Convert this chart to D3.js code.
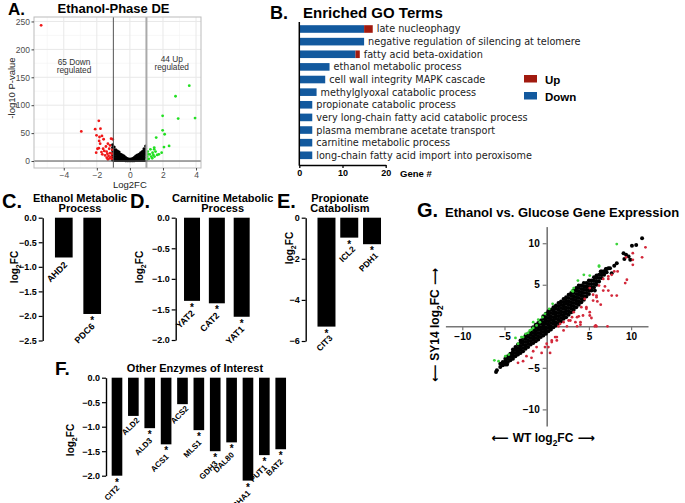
<!DOCTYPE html>
<html><head><meta charset="utf-8">
<script src="https://cdn.jsdelivr.net/npm/d3@7"></script>
<style>body{margin:0;background:#fff}svg{display:block}</style>
</head><body>
<svg id="c" width="685" height="503"></svg>
<script>
// ================= DATA =================
// Panel A: volcano plot  [log2FC, -log10 P]
const volcanoDown = [[-5.37,243],[-2.94,53],[-1.88,72],[-2.1,57],[-1.78,58],[-2.02,46],[-1.84,43],[-1.69,45],[-1.59,39],[-1.86,36],[-1.8,31],[-2.04,15],[-1.88,23],[-1.45,26],[-1.33,31],[-1.14,40],[-1.2,28],[-1.55,18],[-1.41,17],[-1.2,14],[-1.29,9],[-1.06,20],[-1.33,3],[-1.12,8],[-1.67,12],[-1.04,39],[-1.5,10],[-1.25,22],[-1.62,22],[-1.1,4],[-1.4,6],[-1.08,13],[-1.72,16],[-1.96,22],[-1.22,5],[-1.36,13]];
const volcanoUp = [[3.59,135],[2.76,116],[1.98,81],[2.92,76],[3.94,77],[1.98,55],[2.1,48],[1.59,42],[2.37,27],[2.06,25],[1.47,24],[1.47,21],[1.37,15],[1.92,15],[1.65,11],[1.2,12],[1.29,8],[1.49,8],[1.04,8],[1.14,4],[1.35,5],[1.08,17],[1.24,21],[1.55,17],[1.1,12],[1.42,11],[1.75,12],[1.02,3]];
// not significant genes, grouped by log2FC column: [log2FC, [-log10 P values]]
const volcanoNS = [[-1.05,[2,6,10,14,19,24,29]],[-0.95,[1,4,8,12,16,20,25]],[-0.85,[1,4,8,12,16,20]],[-0.75,[1,4,7,11,15,18]],[-0.65,[1,4,7,10,13,16]],[-0.55,[1,3,6,9,12]],[-0.45,[1,3,6,9,11]],[-0.35,[1,3,5,7,9]],[-0.25,[0.5,2.5,4.5,6.5]],[-0.15,[0.5,2.5,4.5]],[-0.05,[0.5,2,3.5]],[0.05,[0.5,2,3.5]],[0.15,[0.5,2.5,4.5]],[0.25,[0.5,2.5,4.5,6.5]],[0.35,[1,3,5,7,9]],[0.45,[1,3,6,9,11]],[0.55,[1,3,6,9,12]],[0.65,[1,4,7,10,13,15]],[0.75,[1,4,7,10,14,17]],[0.85,[1,4,8,12,16,19,22]],[0.95,[1,5,9,13,17,22,27]]];
const volcanoXTicks = [-4,-2,0,2,4];
const volcanoXMinor = [-5,-3,-1,1,3];
const volcanoYTicks = [0,50,100,150,200,250];
const volcanoYMinor = [25,75,125,175,225];
const volcanoCutoffs = [-1,1];
const volcanoNotes = [["65 Down","regulated"],["44 Up","regulated"]];

// Panel B: enriched GO terms
const goTerms = ["late nucleophagy","negative regulation of silencing at telomere","fatty acid beta-oxidation","ethanol metabolic process","cell wall integrity MAPK cascade","methylglyoxal catabolic process","propionate catabolic process","very long-chain fatty acid catabolic process","plasma membrane acetate transport","carnitine metabolic process","long-chain fatty acid import into peroxisome"];
const goDown = [15,15,13,7,6,4,3,3,3,3,3];
const goUp   = [2,0,1,0,0,0,0,0,0,0,0];
const goTicks = [0,10,20];
const goLegend = ["Up","Down"];

// Panel C
const cGenes = ["AHD2","PDC6"];
const cValues = [-0.81,-1.96];
const cSig = [false,true];
const cTicks = [0,-0.5,-1,-1.5,-2,-2.5];
// Panel D
const dGenes = ["YAT2","CAT2","YAT1"];
const dValues = [-1.36,-1.40,-1.62];
const dSig = [true,true,true];
const dTicks = [0,-0.5,-1,-1.5,-2];
// Panel E
const eGenes = ["CIT3","ICL2","PDH1"];
const eValues = [-5.3,-0.97,-1.29];
const eSig = [true,true,true];
const eTicks = [0,-2,-4,-6];
// Panel F
const fGenes = ["CIT2","ALD2","ALD3","ACS1","ACS2","MLS1","GDH3","DAL80","CHA1","PUT1","BAT2"];
const fValues = [-2.0,-0.78,-1.03,-1.36,-0.54,-1.07,-1.50,-1.32,-2.1,-1.58,-1.46];
const fSig = [true,false,true,true,false,true,true,true,true,true,true];
const fTicks = [0,-0.5,-1,-1.5,-2];

// Panel G: WT log2FC vs SY14 log2FC
const gBlackCols = [[-5.9,[-5.3]],[-5.5,[-4.9,-4.5]],[-5.2,[-4.7,-4.3]],[-4.9,[-4.6,-4.2,-3.9]],[-4.6,[-4.3,-3.9,-3.6]],[-4.3,[-4.1,-3.7,-3.3]],[-4.0,[-3.9,-3.5,-3.1,-2.8]],[-3.7,[-3.6,-3.2,-2.8,-2.5]],[-3.4,[-3.4,-3.0,-2.6,-2.2]],[-3.1,[-3.2,-2.8,-2.4,-2.0,-1.7]],[-2.8,[-3.0,-2.6,-2.2,-1.8,-1.4]],[-2.5,[-2.7,-2.3,-1.9,-1.5,-1.1]],[-2.2,[-2.5,-2.1,-1.7,-1.3,-0.9]],[-1.9,[-2.2,-1.8,-1.4,-1.0,-0.6]],[-1.6,[-2.0,-1.6,-1.2,-0.8,-0.4,-0.1]],[-1.3,[-1.8,-1.4,-1.0,-0.6,-0.2,0.2]],[-1.0,[-1.6,-1.2,-0.8,-0.4,0.0,0.4]],[-0.7,[-1.3,-0.9,-0.5,-0.1,0.3,0.7]],[-0.4,[-1.1,-0.7,-0.3,0.1,0.5,0.9,1.2]],[-0.1,[-0.9,-0.5,-0.1,0.3,0.7,1.1,1.5]],[0.2,[-0.6,-0.2,0.2,0.6,1.0,1.4,1.8]],[0.5,[-0.4,0.0,0.4,0.8,1.2,1.6,2.0]],[0.8,[-0.1,0.3,0.7,1.1,1.5,1.9,2.3]],[1.1,[0.1,0.5,0.9,1.3,1.7,2.1,2.5]],[1.4,[0.4,0.8,1.2,1.6,2.0,2.4,2.8]],[1.7,[0.6,1.0,1.4,1.8,2.2,2.6,3.0]],[2.0,[0.9,1.3,1.7,2.1,2.5,2.9,3.3]],[2.3,[1.1,1.5,1.9,2.3,2.7,3.1,3.5]],[2.6,[1.4,1.8,2.2,2.6,3.0,3.4,3.8]],[2.9,[1.7,2.1,2.5,2.9,3.3,3.7,4.0]],[3.2,[2.0,2.4,2.8,3.2,3.6,4.0,4.3]],[3.5,[2.3,2.7,3.1,3.5,3.9,4.3,4.6]],[3.8,[2.6,3.0,3.4,3.8,4.2,4.6,4.9]],[4.1,[2.9,3.3,3.7,4.1,4.5,4.9]],[4.4,[3.2,3.6,4.0,4.4,4.8,5.2]],[4.7,[3.6,4.0,4.4,4.8,5.2]],[5.0,[3.9,4.3,4.7,5.1,5.5]],[5.3,[4.3,4.7,5.1,5.5]],[5.6,[4.7,5.1,5.5,5.9]],[5.9,[5.0,5.4,5.8,6.1]],[6.2,[5.4,5.8,6.2]],[6.5,[5.8,6.2,6.6]],[6.8,[6.2,6.6]],[7.1,[6.5,6.9]],[7.5,[7.0]]];
const gBlackExtra = [[11.3,10.6],[10.6,9.8],[10.1,9.7],[9.1,8.8],[9.4,8.6],[9.9,8.0],[9.7,8.4],[9.2,8.1],[8.3,7.6],[7.7,6.4],[6.7,6.6],[7.3,7.0],[5.7,4.3],[-6.0,-5.5],[-5.2,-4.6],[-4.7,-4.6],[-4.0,-3.2],[-3.4,-3.0],[8.0,7.3],[7.0,6.9],[6.4,6.6]];
const gRed = [[11.7,9.5],[11.3,8.3],[10.2,8.8],[10.2,8.0],[10.2,7.4],[9.4,8.3],[9.5,5.6],[9.3,5.2],[8.4,6.6],[8.0,6.6],[7.7,6.2],[7.3,5.7],[6.7,4.3],[7.3,4.3],[8.3,3.7],[7.7,3.7],[6.4,2.6],[5.9,3.7],[5.5,3.8],[5.1,4.6],[6.2,4.9],[4.5,3.3],[4.1,2.3],[4.7,2.1],[5.3,1.0],[3.8,1.2],[3.4,0.5],[2.8,0.7],[2.4,0],[3.6,0],[4.0,0.2],[5.7,0],[5.9,0],[5.8,0.1],[7.2,0],[1.4,0],[2.0,-0.5],[1.2,-1.3],[0.6,-1.9],[0.0,-2.1],[-0.2,-2.5],[0.4,-3.2],[-0.6,-3.2],[-1.6,-3.0],[-1.8,-3.8],[-2.4,-3.6],[-2.8,-4.2],[-3.4,-4.4],[-1.2,-2.5],[1.6,0.3],[2.0,0.5],[3.0,1.1],[5.1,1.3],[7.3,6.0],[6.7,5.7],[5.9,3.5],[5.5,3.1],[4.7,2.3],[5.1,1.7],[4.3,1.3],[4.0,0.5],[2.6,0.7],[1.0,-1.3],[0.6,-1.7],[3.2,1.7],[3.6,1.1],[1.2,-1.7],[0.2,-2.5],[6.0,3.0],[6.9,4.8]];
const gGreen = [[8.3,9.9],[6.2,7.3],[5.1,6.1],[3.7,5.5],[3.0,4.3],[3.2,4.6],[0.7,2.7],[0.3,2.1],[-0.2,1.5],[-0.5,1.1],[-1.0,0.8],[-1.6,-0.2],[-1.8,-0.4],[-2.0,-0.5],[-1.2,0.1],[-3.7,-1.4],[-4.5,-3.4],[-4.9,-3.6],[-6.2,-4.1],[-5.7,-4.2],[-2.5,-0.9],[-2.8,-1.3],[-2.2,-0.8],[-0.8,0.5],[6.2,7.2],[4.4,6.2],[3.1,4.2],[-1.6,0.5],[-3.0,-1.3],[-3.4,-2.1]];
const gTicks = [-10,-5,5,10];

// ================= DRAWING =================
const svg = d3.select("#c");
const SANS = "'Liberation Sans', Arial, Helvetica, sans-serif";
const DEJ = "'DejaVu Sans', sans-serif";

function txt(g, x, y, s, size, opts = {}) {
  return g.append("text").attr("x", x).attr("y", y).text(s)
    .attr("font-family", opts.family || SANS).attr("font-size", size)
    .attr("font-weight", opts.weight || "bold").attr("fill", opts.fill || "#000")
    .attr("text-anchor", opts.anchor || "start");
}
function log2fc(g, x, y, size, rot, prefix, arrows) {
  const t = g.append("text").attr("transform", `translate(${x},${y}) rotate(${rot})`)
    .attr("text-anchor", "middle").attr("dy", rot ? "0.35em" : 0)
    .attr("font-family", SANS).attr("font-size", size).attr("font-weight", "bold");
  if (arrows) t.append("tspan").attr("font-family", DEJ).text("\u27F5 ");
  if (prefix) t.append("tspan").text(prefix);
  t.append("tspan").text("log");
  t.append("tspan").attr("font-size", size * 0.7).attr("dy", size * 0.3).text("2");
  t.append("tspan").attr("dy", -size * 0.3).text("FC");
  if (arrows) t.append("tspan").attr("font-family", DEJ).text(" \u27F6");
  return t;
}

// Panel letters
[["A.",8,14.5,17],["B.",270,19,18],["C.",2,208,20],["D.",130,208,20],["E.",277,208,20],["F.",55,375,19],["G.",417,217,20]]
  .forEach(([s,x,y,f]) => txt(svg, x, y, s, f));

// ---------- Panel A ----------
{
  const g = svg.append("g");
  const x = d3.scaleLinear().domain([-5.8, 4.3]).range([34, 201]);
  const y = d3.scaleLinear().domain([-12.5, 258]).range([168, 17]);
  g.selectAll(".vmin").data(volcanoXMinor).join("line").attr("x1", d=>x(d)).attr("x2", d=>x(d)).attr("y1",17).attr("y2",168).attr("stroke","#f4f4f4").attr("stroke-width",0.6);
  g.selectAll(".hmin").data(volcanoYMinor).join("line").attr("y1", d=>y(d)).attr("y2", d=>y(d)).attr("x1",34).attr("x2",201).attr("stroke","#f4f4f4").attr("stroke-width",0.6);
  g.selectAll(".vmaj").data(volcanoXTicks).join("line").attr("x1", d=>x(d)).attr("x2", d=>x(d)).attr("y1",17).attr("y2",168).attr("stroke","#e8e8e8").attr("stroke-width",1);
  g.selectAll(".hmaj").data(volcanoYTicks).join("line").attr("y1", d=>y(d)).attr("y2", d=>y(d)).attr("x1",34).attr("x2",201).attr("stroke","#e8e8e8").attr("stroke-width",1);
  const ns = volcanoNS.flatMap(([fc, ps]) => ps.map(p => [fc, p]));
  g.selectAll(".ns").data(ns).join("circle").attr("cx", d=>x(d[0])).attr("cy", d=>y(d[1])).attr("r",1.5).attr("fill","#000");
  g.selectAll(".dn").data(volcanoDown).join("circle").attr("cx", d=>x(d[0])).attr("cy", d=>y(d[1])).attr("r",1.4).attr("fill","#f01818");
  g.selectAll(".up").data(volcanoUp).join("circle").attr("cx", d=>x(d[0])).attr("cy", d=>y(d[1])).attr("r",1.4).attr("fill","#22e022");
  g.append("line").attr("x1", x(volcanoCutoffs[0])).attr("x2", x(volcanoCutoffs[0])).attr("y1",17).attr("y2",168).attr("stroke","#555").attr("stroke-width",1);
  g.append("line").attr("x1", x(volcanoCutoffs[1])).attr("x2", x(volcanoCutoffs[1])).attr("y1",17).attr("y2",168).attr("stroke","#aaa").attr("stroke-width",2);
  g.append("line").attr("x1",34).attr("x2",201).attr("y1", y(0)).attr("y2", y(0)).attr("stroke","#555").attr("stroke-width",1);
  g.append("rect").attr("x",34).attr("y",17).attr("width",167).attr("height",151).attr("fill","none").attr("stroke","#bbb").attr("stroke-width",1);
  const xa = g.append("g").attr("transform","translate(0,168)").call(d3.axisBottom(x).tickValues(volcanoXTicks).tickSize(2.5).tickPadding(1));
  const ya = g.append("g").attr("transform","translate(34,0)").call(d3.axisLeft(y).tickValues(volcanoYTicks).tickSize(2.5).tickPadding(1.5));
  [xa, ya].forEach(a => { a.select(".domain").remove(); a.selectAll("line").attr("stroke","#444");
    a.selectAll("text").attr("font-family", SANS).attr("font-size", 8.5).attr("fill","#4d4d4d"); });
  txt(g, x(0), 188, "Log2FC", 9.5, {weight:"normal", anchor:"middle", fill:"#222"});
  g.append("text").attr("transform","translate(12,88) rotate(-90)").attr("text-anchor","middle").attr("dy","0.35em")
    .attr("font-family", SANS).attr("font-size", 9.5).attr("fill","#222").text("-log10 P-value");
  txt(g, 113.5, 13, "Ethanol-Phase DE", 13, {anchor:"middle"});
  txt(g, 74, 64.5, volcanoNotes[0][0], 8.3, {weight:"normal", anchor:"middle", fill:"#333"});
  txt(g, 74, 73, volcanoNotes[0][1], 8.3, {weight:"normal", anchor:"middle", fill:"#333"});
  txt(g, 171.7, 61.5, volcanoNotes[1][0], 8.3, {weight:"normal", anchor:"middle", fill:"#333"});
  txt(g, 171.7, 70, volcanoNotes[1][1], 8.3, {weight:"normal", anchor:"middle", fill:"#333"});
}

// ---------- Panel B ----------
{
  const g = svg.append("g");
  const x = d3.scaleLinear().domain([0, 20]).range([299.3, 385.7]);
  const y = d3.scalePoint().domain(goTerms).range([29, 155.3]);
  const bh = 7.6;
  g.selectAll(".bd").data(goTerms).join("rect").attr("x", x(0)).attr("y", d=>y(d)-bh/2)
    .attr("width", (d,i)=>x(goDown[i])-x(0)).attr("height", bh).attr("fill","#12599e");
  g.selectAll(".bu").data(goTerms).join("rect").attr("x", (d,i)=>x(goDown[i])).attr("y", d=>y(d)-bh/2)
    .attr("width", (d,i)=>x(goDown[i]+goUp[i])-x(goDown[i])).attr("height", bh).attr("fill","#a11a0f");
  g.selectAll(".lb").data(goTerms).join("text").attr("x", (d,i)=>x(goDown[i]+goUp[i])+4).attr("y", d=>y(d)).attr("dy","0.36em")
    .attr("font-family", DEJ).attr("font-size", 9.7).attr("fill","#222").text(d=>d);
  const xa = g.append("g").attr("transform","translate(0,165)").call(d3.axisBottom(x).tickValues(goTicks).tickSize(3).tickSizeOuter(0).tickPadding(2));
  xa.select(".domain").attr("stroke-width",1.5);
  xa.selectAll("line").attr("stroke-width",1.3);
  xa.selectAll("text").attr("font-family", SANS).attr("font-size", 9).attr("font-weight","bold").attr("fill","#000");
  g.append("line").attr("x1", x(0)).attr("x2", x(0)).attr("y1", 22).attr("y2", 165.7).attr("stroke","#000").attr("stroke-width",1.5);
  txt(g, 400, 177, "Gene #", 9.5);
  txt(g, 303, 18, "Enriched GO Terms", 15);
  const cols = ["#a11a0f", "#12599e"];
  goLegend.forEach((s,i) => {
    g.append("rect").attr("x",524).attr("y",75+i*17).attr("width",13).attr("height",7.5).attr("fill",cols[i]);
    txt(g, 545, 83.5+i*17, s, 11.5);
  });
}

// ---------- Bar panels C-F ----------
function barPanel(cfg) {
  const g = svg.append("g");
  const x = d3.scaleBand().domain(cfg.genes).range(cfg.xr).paddingInner(cfg.pad).paddingOuter(cfg.pad/2);
  const y = d3.scaleLinear().domain(cfg.yd).range(cfg.yr);
  g.selectAll("rect").data(cfg.genes).join("rect")
    .attr("x", d=>x(d)).attr("width", x.bandwidth())
    .attr("y", y(0)).attr("height", (d,i)=>y(cfg.values[i]) - y(0)).attr("fill","#000");
  const a = g.append("g").attr("transform", `translate(${cfg.axisX},0)`)
    .call(d3.axisLeft(y).tickValues(cfg.ticks).tickFormat(cfg.fmt).tickSize(4).tickSizeOuter(0).tickPadding(2));
  a.select(".domain").attr("stroke-width",1.4);
  a.selectAll("line").attr("stroke-width",1.2);
  a.selectAll("text").attr("font-family", SANS).attr("font-size", 9).attr("font-weight","bold").attr("fill","#000");
  cfg.genes.forEach((gn,i) => {
    const cx = x(gn) + x.bandwidth()/2, b = y(cfg.values[i]);
    let lx, ly;
    if (cfg.sig[i]) {
      txt(g, cx, b + 10, "*", 10, {anchor:"middle"});
      lx = cx + cfg.so[0]; ly = b + cfg.so[1];
    } else { lx = cx + cfg.no[0]; ly = b + cfg.no[1]; }
    g.append("text").attr("transform", `translate(${lx},${ly}) rotate(-45)`).attr("text-anchor","end")
      .attr("font-family", SANS).attr("font-size", cfg.lf).attr("font-weight","bold").text(gn);
  });
  cfg.title.forEach((s,i) => txt(g, cfg.tx, cfg.ty + i*10.5, s, 11, {anchor:"middle"}));
  log2fc(g, cfg.ytx, cfg.yty, 10, -90);
}
const f1 = d3.format(".1f");
barPanel({genes:cGenes, values:cValues, sig:cSig, xr:[49.6,106.4], pad:0.377, yd:[0,-2.5], yr:[217.7,340.5], axisX:42.7, ticks:cTicks, fmt:f1, title:["Ethanol Metabolic","Process"], tx:80, ty:201.5, ytx:14, yty:267, lf:9, so:[3,13], no:[4,8]});
barPanel({genes:dGenes, values:dValues, sig:dSig, xr:[179.6,254.1], pad:0.356, yd:[0,-2], yr:[217.7,340], axisX:175.7, ticks:dTicks, fmt:f1, title:["Carnitine Metabolic","Process"], tx:222.7, ty:201.5, ytx:139, yty:267, lf:9, so:[3,13], no:[4,8]});
barPanel({genes:eGenes, values:eValues, sig:eSig, xr:[315.1,383.4], pad:0.21, yd:[0,-6], yr:[217.7,341], axisX:305.7, ticks:eTicks, fmt:d3.format("d"), title:["Propionate","Catabolism"], tx:340, ty:201.5, ytx:289, yty:248, lf:8.5, so:[6.5,12], no:[4,8]});
barPanel({genes:fGenes, values:fValues, sig:fSig, xr:[108.8,288.9], pad:0.35, yd:[0,-2], yr:[377.7,475.7], axisX:106, ticks:fTicks, fmt:f1, title:["Other Enzymes of Interest"], tx:195, ty:371.5, ytx:70, yty:440, lf:8, so:[3,13], no:[6.5,5]});

// ---------- Panel G ----------
{
  const g = svg.append("g");
  const x = d3.scaleLinear().domain([-12, 12]).range([445.4, 648]);
  const y = d3.scaleLinear().domain([-12, 12]).range([426, 226.6]);
  const xa = g.append("g").attr("transform", `translate(0,${y(0)})`).call(d3.axisBottom(x).tickValues(gTicks).tickSize(4).tickSizeOuter(0).tickPadding(3));
  const ya = g.append("g").attr("transform", `translate(${x(0)},0)`).call(d3.axisLeft(y).tickValues(gTicks).tickSize(4).tickSizeOuter(0).tickPadding(3));
  [xa, ya].forEach(a => { a.select(".domain").attr("stroke","#777").attr("stroke-width",1.6);
    a.selectAll("line").attr("stroke","#777").attr("stroke-width",1.2);
    a.selectAll("text").attr("font-family", SANS).attr("font-size", 10).attr("font-weight","bold").attr("fill","#000"); });
  const black = gBlackCols.flatMap(([wx, ys]) => ys.map(v => [wx, v])).concat(gBlackExtra);
  g.selectAll(".k").data(black).join("circle").attr("cx", d=>x(d[0])).attr("cy", d=>y(d[1])).attr("r",2.0).attr("fill","#000");
  g.selectAll(".r").data(gRed).join("circle").attr("cx", d=>x(d[0])).attr("cy", d=>y(d[1])).attr("r",1.4).attr("fill","#d3283a");
  g.selectAll(".gr").data(gGreen).join("circle").attr("cx", d=>x(d[0])).attr("cy", d=>y(d[1])).attr("r",1.4).attr("fill","#3bd43b");
  txt(g, 445, 216.5, "Ethanol vs. Glucose Gene Expression", 13);
  log2fc(g, 543, 442, 12, 0, "WT ", true);
  log2fc(g, 435, 325, 12, -90, "SY14 ", true);
}
</script>
</body></html>
